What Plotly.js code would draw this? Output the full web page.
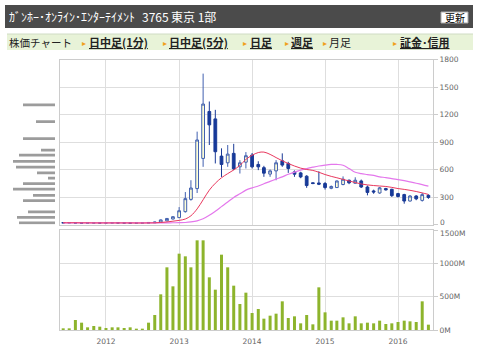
<!DOCTYPE html>
<html><head><meta charset="utf-8">
<script src="https://cdn.plot.ly/plotly-3.0.1.min.js"></script>
<style>html,body{margin:0;padding:0;background:#fff}#chart{width:480px;height:352px}</style>
</head><body><div id="chart"></div>
<script>
const months = ['2011-06-01','2011-07-01','2011-08-01','2011-09-01','2011-10-01','2011-11-01','2011-12-01',
'2012-01-01','2012-02-01','2012-03-01','2012-04-01','2012-05-01','2012-06-01','2012-07-01','2012-08-01','2012-09-01','2012-10-01','2012-11-01','2012-12-01',
'2013-01-01','2013-02-01','2013-03-01','2013-04-01','2013-05-01','2013-06-01','2013-07-01','2013-08-01','2013-09-01','2013-10-01','2013-11-01','2013-12-01',
'2014-01-01','2014-02-01','2014-03-01','2014-04-01','2014-05-01','2014-06-01','2014-07-01','2014-08-01','2014-09-01','2014-10-01','2014-11-01','2014-12-01',
'2015-01-01','2015-02-01','2015-03-01','2015-04-01','2015-05-01','2015-06-01','2015-07-01','2015-08-01','2015-09-01','2015-10-01','2015-11-01','2015-12-01',
'2016-01-01','2016-02-01','2016-03-01','2016-04-01','2016-05-01','2016-06-01'];
const openP  = [20,18,19,16,15,16,17,16,17,18,17,16,15,16,22,18,25,40,60,75,140,274,392,721,1233,1152,746,673,776,629,680,757,655,620,550,585,695,666,574,563,527,455,453,447,395,403,436,483,450,475,409,366,344,392,384,337,326,256,311,263,318];
const highP  = [22,21,24,20,18,19,19,18,20,20,19,18,17,18,26,30,55,70,90,190,354,483,1013,1646,1342,1251,831,867,880,702,790,780,690,640,600,702,776,684,590,575,538,460,580,464,425,480,525,490,515,490,425,380,410,400,390,345,335,320,320,345,330];
const lowP   = [17,16,15,14,14,14,15,15,16,16,15,14,14,15,16,17,22,36,55,70,130,260,344,629,867,666,519,629,593,556,611,611,593,520,520,483,629,563,520,505,400,440,430,381,385,398,428,440,445,398,318,335,335,370,300,295,227,250,265,250,280];
const closeP = [18,19,16,15,16,17,16,17,18,17,16,15,16,17,18,26,50,66,85,150,282,398,922,1314,1087,794,655,768,607,673,750,629,629,560,585,673,648,611,549,519,425,447,440,403,415,475,494,455,483,409,350,355,400,378,315,305,256,311,280,326,295];
const ma1 = [19,19,19,18,18,17,17,17,17,17,17,17,16,16,17,18,22,28,36,45,60,95,170,270,375,450,510,555,595,645,710,755,785,790,765,730,695,665,638,615,600,590,570,545,525,510,492,475,458,442,432,425,420,415,405,392,383,373,360,345,328];
const ma2 = [17,17,17,17,17,17,17,17,17,17,17,17,17,17,17,17,18,18,19,20,22,28,40,62,100,145,195,245,295,335,375,400,420,445,470,495,520,548,572,593,610,625,638,648,655,655,646,610,570,555,545,535,520,512,500,490,478,465,450,435,418];
const volumeM = [25,25,150,110,40,60,50,30,40,40,30,40,20,20,110,225,535,940,655,1145,1105,940,1345,1345,790,605,1130,940,665,390,560,255,315,170,215,245,430,180,205,100,225,85,640,265,140,140,190,100,205,100,110,100,140,90,100,120,140,130,120,430,80];
const profilePrice = [1304,1123,937,812,757,688,626,563,505,447,385,319,260,139,77,19];
const profileVol   = [32,19,32,14,36,42,39,18,7,32,42,22,32,27,38,36];
const yearTicks = ['2012-01-01','2013-01-01','2014-01-01','2015-01-01','2016-01-01'];
const yearLabels = ['2012','2013','2014','2015','2016'];
const priceTicks = [0,300,600,900,1200,1500,1800];
const priceLabels = ['','300','600','900','1200','1500','1800'];
const volTicks = [0,500,1000,1500];
const volLabels = ['0M','500M','1000M',''];

const W=480,H=352;
const X=p=>p/W, Y=p=>1-p/H;
const grid='#dedede', axc='#cccccc', tf={family:'DejaVu Sans',size:7.5,color:'#666'};
const jp='Noto Sans CJK JP';

const traces=[
 {type:'bar',orientation:'h',x:profileVol,y:profilePrice,xaxis:'x3',yaxis:'y3',width:30,
  marker:{color:'#9c9c9c'},hoverinfo:'skip'},
 {type:'bar',x:months,y:volumeM,xaxis:'x2',yaxis:'y2',width:15*86400000,
  marker:{color:'#8db42c'},hoverinfo:'skip'},
 {type:'candlestick',x:months,open:openP,high:highP,low:lowP,close:closeP,xaxis:'x',yaxis:'y',
  whiskerwidth:0,
  increasing:{line:{color:'#4060b0',width:1},fillcolor:'#ffffd6'},
  decreasing:{line:{color:'#1a3a96',width:1},fillcolor:'#163a9a'},hoverinfo:'skip'},
 {type:'scatter',mode:'lines',x:months,y:ma2,xaxis:'x',yaxis:'y',line:{color:'#e478ec',width:1.2,shape:'spline'},hoverinfo:'skip'},
 {type:'scatter',mode:'lines',x:months,y:ma1,xaxis:'x',yaxis:'y',line:{color:'#e8385e',width:1,shape:'spline'},hoverinfo:'skip'}
];

const xr=['2011-05-16','2016-06-24'];
const layout={
 width:W,height:H,margin:{l:0,r:0,t:0,b:0},showlegend:false,
 paper_bgcolor:'#fff',plot_bgcolor:'#fff',font:{family:'DejaVu Sans'},
 xaxis:{type:'date',domain:[X(60),X(433)],range:xr,anchor:'y',showticklabels:false,tickvals:yearTicks,
   gridcolor:grid,showline:true,mirror:true,linecolor:axc,zeroline:false,ticks:'',rangeslider:{visible:false},fixedrange:true},
 yaxis:{domain:[Y(224.5),Y(59.5)],range:[0,1800],anchor:'x',side:'right',tickvals:priceTicks,ticktext:priceLabels,ticks:'outside',ticklen:4,
   tickcolor:axc,gridcolor:grid,showline:true,mirror:true,linecolor:axc,zeroline:false,tickfont:tf,automargin:false},
 xaxis2:{type:'date',domain:[X(60),X(433)],range:xr,anchor:'y2',tickvals:yearTicks,ticktext:yearLabels,ticks:'',ticklabelstandoff:4,
   gridcolor:grid,showline:true,mirror:true,linecolor:axc,zeroline:false,tickfont:tf,automargin:false},
 yaxis2:{domain:[Y(330),Y(230)],range:[0,1500],anchor:'x2',side:'right',tickvals:volTicks,ticktext:volLabels,ticks:'outside',ticklen:4,
   tickcolor:axc,gridcolor:grid,showline:true,mirror:true,linecolor:axc,zeroline:false,tickfont:tf,automargin:false},
 xaxis3:{domain:[X(13),X(55)],range:[42,0],anchor:'y3',visible:false},
 yaxis3:{domain:[Y(224.5),Y(59.5)],range:[0,1800],anchor:'x3',visible:false},
 shapes:[
  {type:'rect',xref:'paper',yref:'paper',x0:X(5),x1:X(473),y0:Y(28),y1:Y(5),fillcolor:'#4b4b4b',line:{width:0}},
  {type:'rect',xref:'paper',yref:'paper',x0:X(441),x1:X(468),y0:Y(23),y1:Y(12),fillcolor:'#fff',line:{color:'#aaa',width:1}},
  {type:'rect',xref:'paper',yref:'paper',x0:X(7),x1:X(473),y0:Y(50),y1:Y(34),fillcolor:'#e8f3d8',line:{width:0}},
  {type:'line',xref:'paper',yref:'paper',x0:X(7),x1:X(473),y0:Y(34),y1:Y(34),line:{color:'#cfdcc4',width:1}}
 ],
 annotations:[]
};
const A=(t,x,y,sz,col,xa,fam)=>layout.annotations.push({text:t,xref:'paper',yref:'paper',x:X(x),y:Y(y),showarrow:false,
  xanchor:xa||'left',yanchor:'middle',font:{family:fam||jp,size:sz,color:col}});
A('ｶﾞﾝﾎｰ･ｵﾝﾗｲﾝ･ｴﾝﾀｰﾃｲﾒﾝﾄ',7,16.5,12,'#fff');
A('3765',140,16.5,12,'#fff');
A('東京 1部',169,16.5,12,'#fff');
A('更新',454.5,17.5,10,'#000','center');
A('株価チャート',7,42,10.5,'#222');
[80,161,241,283,321,391].forEach(x=>A('▸',x,42,8,'#f0a020'));
A('<b><u>日中足(1分)</u></b>',87,42,11,'#222');
A('<b><u>日中足(5分)</u></b>',167,42,11,'#222');
A('<b><u>日足</u></b>',248,42,11,'#222');
A('<b><u>週足</u></b>',289,42,11,'#222');
A('月足',327,42,11,'#222');
A('<b><u>証金･信用</u></b>',398,42,11,'#222');
// axis end labels placed individually so they do not collide
A(String(priceTicks[0]),438,222.5,7.5,'#666','left','DejaVu Sans');
A(String(volTicks[3])+'M',438,233.5,7.5,'#666','left','DejaVu Sans');

Plotly.newPlot('chart',traces,layout,{staticPlot:true,displayModeBar:false});
</script></body></html>
